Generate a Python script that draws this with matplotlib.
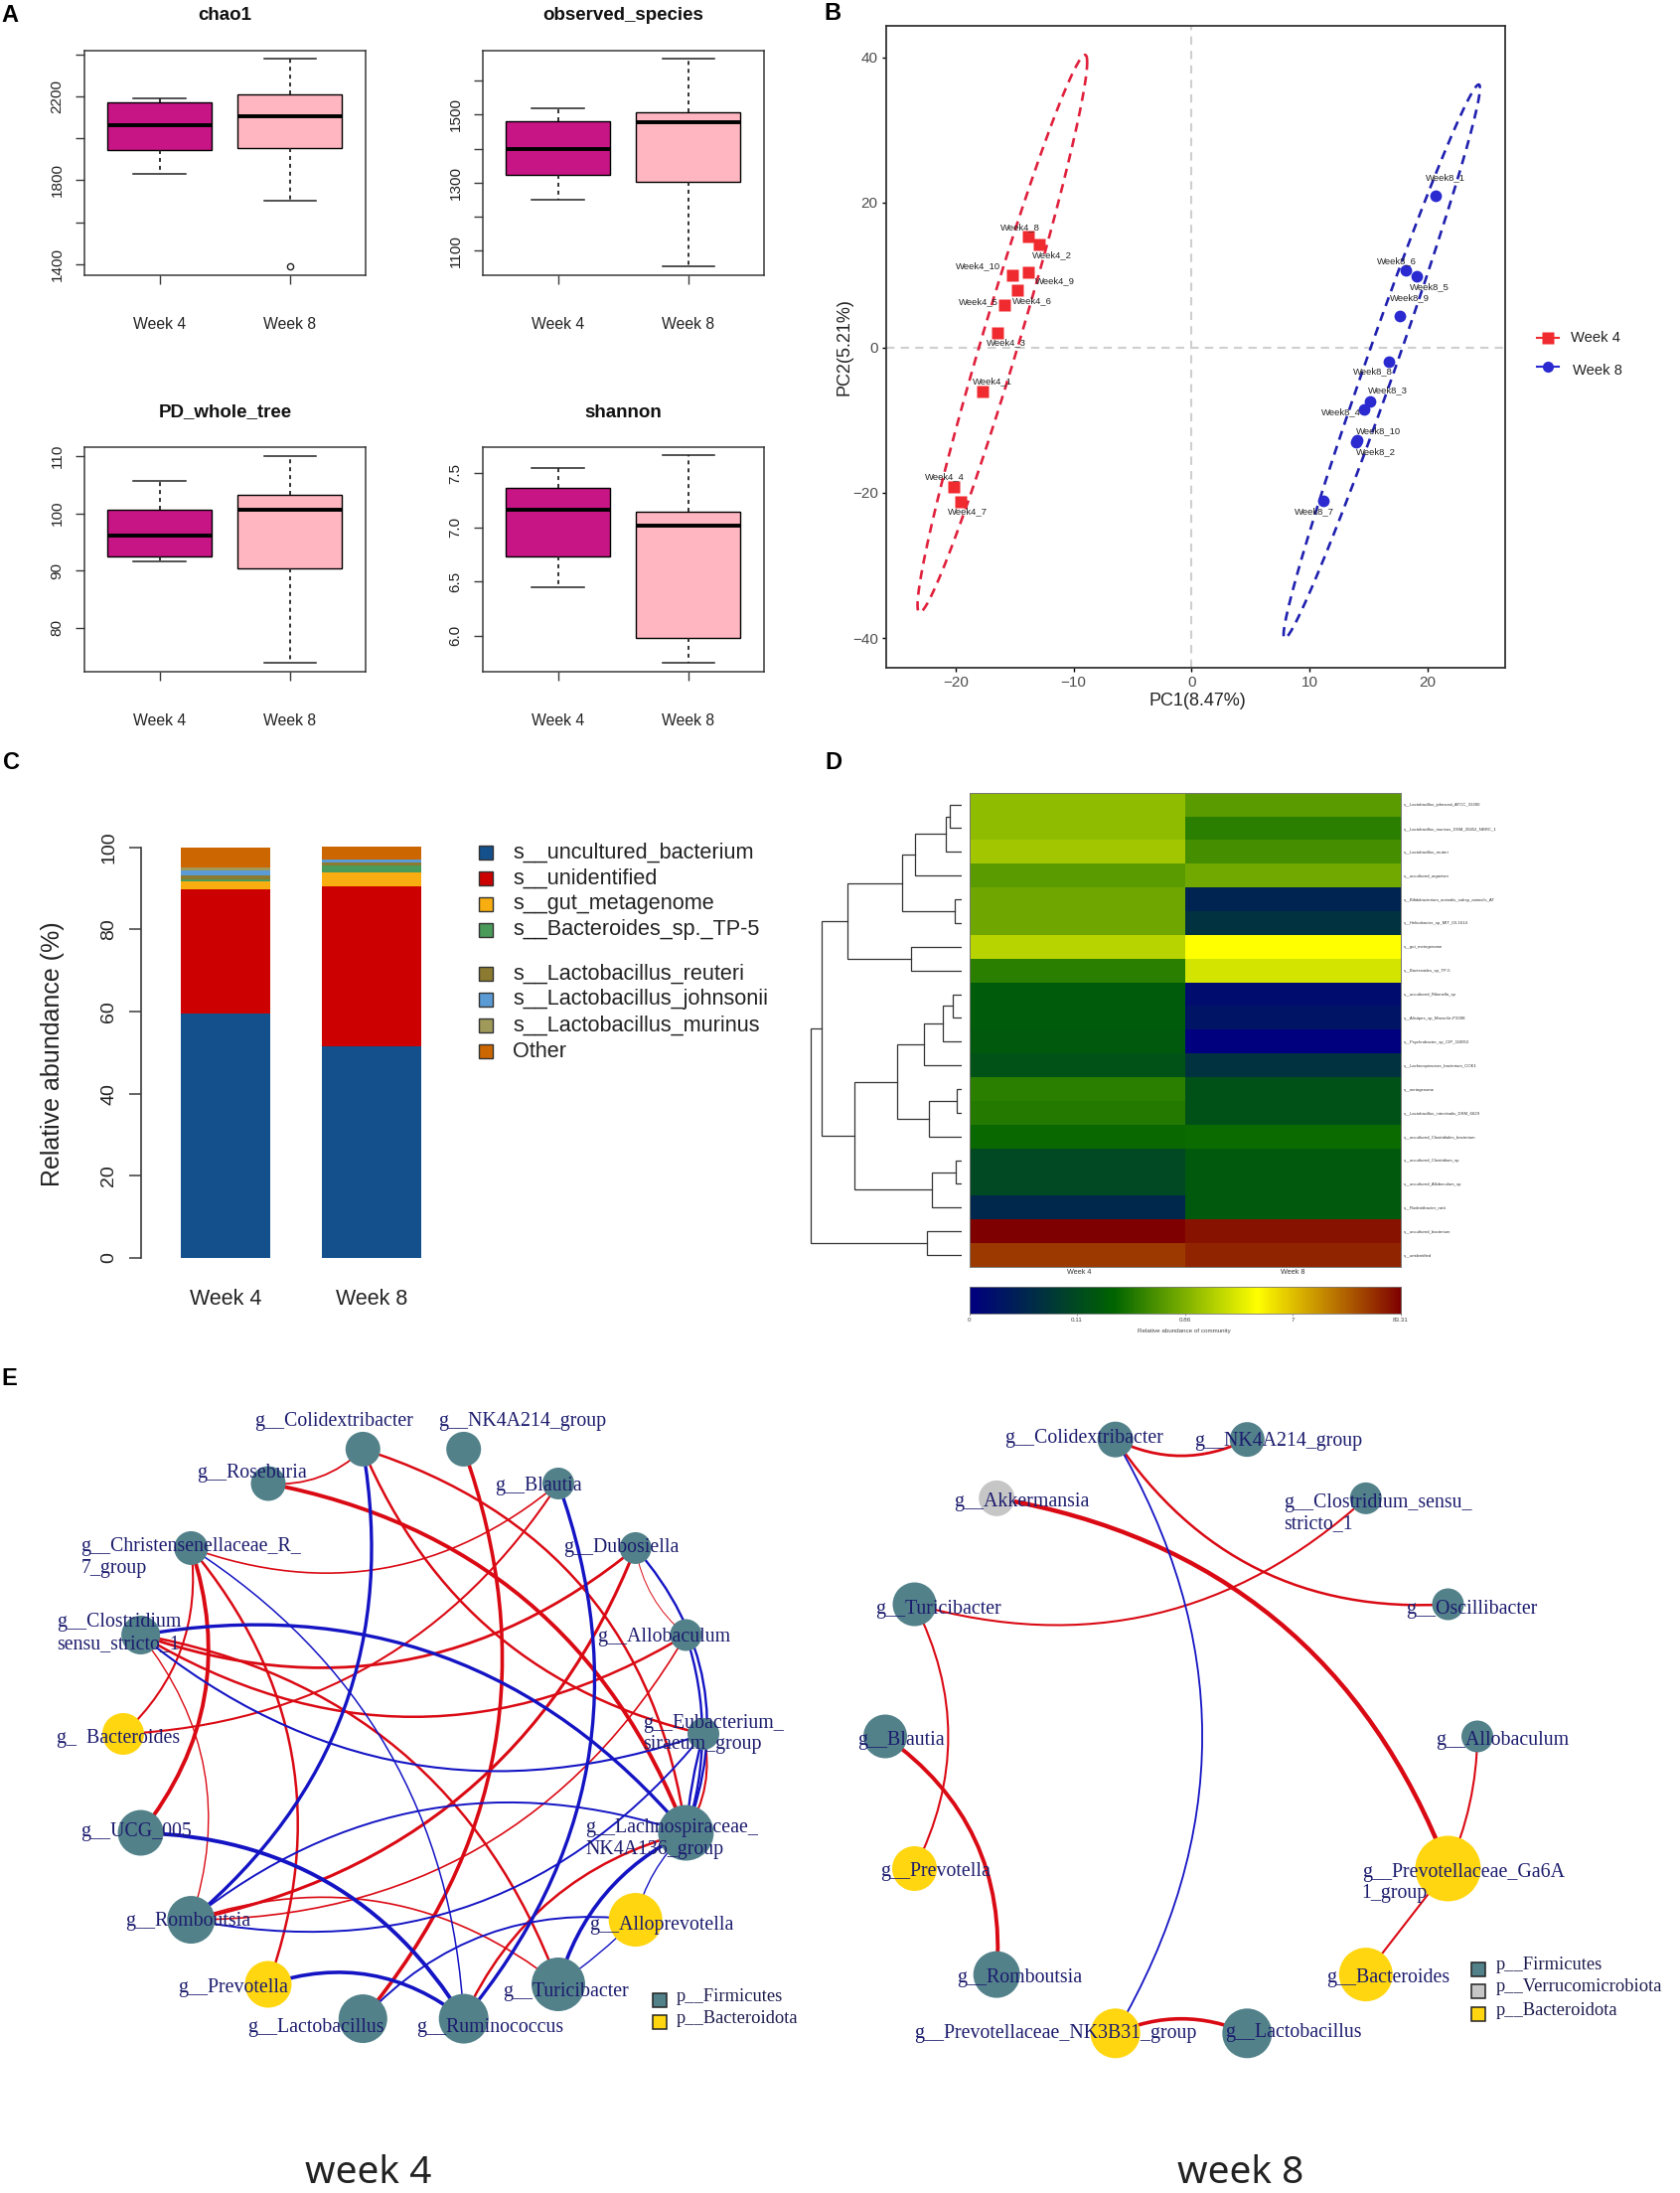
import numpy as np
import matplotlib
matplotlib.use("Agg")
import matplotlib.pyplot as plt
from matplotlib.colors import LinearSegmentedColormap
from matplotlib.lines import Line2D
from matplotlib.patches import Rectangle, PathPatch
from matplotlib.path import Path
from matplotlib.transforms import ScaledTranslation

W, H = 1691, 2207
SANS = "Liberation Sans"
SERIF = "Liberation Serif"
plt.rcParams["font.family"] = SANS

# ---------- Panel A: boxplots (low whisker, q1, median, q3, high whisker) ----------
groups = ["Week 4", "Week 8"]
box_titles = ["chao1", "observed_species", "PD_whole_tree", "shannon"]
chao1_w4 = [1829, 1944, 2063, 2173, 2193]
chao1_w8 = [1701, 1955, 2108, 2209, 2380]
chao1_out = [1387]
observed_w4 = [1249, 1323, 1400, 1481, 1518]
observed_w8 = [1053, 1303, 1477, 1508, 1665]
pd_w4 = [91.6, 92.4, 96.1, 100.7, 105.7]
pd_w8 = [73.8, 90.4, 100.6, 103.2, 110.0]
shannon_w4 = [6.45, 6.73, 7.165, 7.37, 7.55]
shannon_w8 = [5.75, 5.975, 7.02, 7.15, 7.665]
chao1_ticks = [1400, 1600, 1800, 2000, 2200, 2400]
chao1_labels = ["1400", "", "1800", "", "2200", ""]
observed_ticks = [1100, 1200, 1300, 1400, 1500, 1600]
observed_labels = ["1100", "", "1300", "", "1500", ""]
pd_ticks = [80, 90, 100, 110]
shannon_ticks = [6.0, 6.5, 7.0, 7.5]

# ---------- Panel B: PCA scores, samples 1..10 ----------
w4_pc1 = [-17.7, -12.9, -16.5, -20.2, -15.9, -14.8, -19.6, -13.84, -13.84, -15.2]
w4_pc2 = [-6.0, 14.2, 2.1, -19.2, 5.8, 7.9, -21.2, 15.25, 10.4, 10.0]
w8_pc1 = [20.7, 14.0, 15.1, 14.6, 19.1, 18.2, 11.2, 16.7, 17.7, 14.05]
w8_pc2 = [20.9, -13.0, -7.4, -8.5, 9.8, 10.7, -21.1, -1.9, 4.3, -12.8]

# ---------- Panel C: stacked composition ----------
species = ["s__uncultured_bacterium", "s__unidentified", "s__gut_metagenome", "s__Bacteroides_sp._TP-5",
           "s__Lactobacillus_reuteri", "s__Lactobacillus_johnsonii", "s__Lactobacillus_murinus", "Other"]
comp_w4 = [59.4, 30.3, 2.05, 0.3, 1.15, 1.1, 0.8, 4.9]
comp_w8 = [51.5, 38.9, 3.4, 1.7, 0.8, 0.6, 0.2, 3.1]
species_colors = ["#13508C", "#CC0000", "#F8AE10", "#4A9A5A", "#8B7A30", "#5A9BD5", "#A09A5A", "#CC6600"]

# ---------- Panel D: heatmap, values as position on the colour scale ----------
heat_rows = ["s__Lactobacillus_johnsonii_ATCC_33200", "s__Lactobacillus_murinus_DSM_20452_NBRC_1",
             "s__Lactobacillus_reuteri", "s__uncultured_organism",
             "s__Bifidobacterium_animalis_subsp_animalis_AT", "s__Helicobacter_sp_MIT_03-1614",
             "s__gut_metagenome", "s__Bacteroides_sp_TP-5", "s__uncultured_Rikenella_sp",
             "s__Alistipes_sp_Marseille-P3398", "s__Psychrobacter_sp_CIP_110053",
             "s__Lachnospiraceae_bacterium_COE1", "s__metagenome",
             "s__Lactobacillus_intestinalis_DSM_6629", "s__uncultured_Clostridiales_bacterium",
             "s__uncultured_Clostridium_sp", "s__uncultured_Allobaculum_sp", "s__Rodentibacter_ratti",
             "s__uncultured_bacterium", "s__unidentified"]
heat_w4 = [.52, .52, .543, .453, .48, .48, .573, .387, .307, .305, .30, .275, .387, .38, .345, .245, .245, .133, 1.0, .924]
heat_w8 = [.45, .387, .423, .483, .123, .17, .667, .607, .043, .07, 0.0, .17, .27, .27, .35, .30, .30, .30, .975, .952]
heat_scale_ticks = [0, .25, .5, .75, 1]
heat_scale_labels = ["0", "0.11", "0.86", "7", "83.31"]
heat_scale_colors = ["#00007F", "#006400", "#FFFF00", "#7F0000"]
# dendrogram merges: (child, child, height); ids >= 20 refer to earlier merges
merges = [(0, 1, 22), (20, 2, 29), (21, 3, 82), (4, 5, 13), (22, 23, 106), (6, 7, 89), (24, 25, 203),
          (8, 9, 16), (27, 10, 33), (28, 11, 67), (12, 13, 8), (30, 14, 59), (29, 31, 115),
          (15, 16, 10), (33, 17, 52), (32, 34, 190), (26, 35, 248), (18, 19, 62), (36, 37, 267)]

# ---------- Panel E: networks ----------
w4_nodes = ["Colidextribacter", "NK4A214", "Blautia", "Dubosiella", "Allobaculum", "Eubacterium", "Lachnospiraceae",
            "Alloprevotella", "Turicibacter", "Ruminococcus", "Lactobacillus", "Prevotella", "Romboutsia", "UCG",
            "Bacteroides", "Clostridium", "Christensenellaceae", "Roseburia"]
w4_diam = [35, 35, 32, 32, 32, 32, 56, 54, 54, 50, 49, 47, 48, 46, 42, 39, 34, 35]
w4_phylum = ["F", "F", "F", "F", "F", "F", "F", "B", "F", "F", "F", "B", "F", "F", "B", "F", "F", "F"]
# (a, b, bend, line width)
w4_pos = [(17, 0, .15, 1.3), (17, 6, -.185, 2.8), (0, 6, -.21, 1.8), (0, 5, .17, 1.8), (1, 10, -.19, 2.6),
          (2, 14, -.17, 1.5), (16, 2, .19, 1.2), (16, 14, -.17, 1.5), (16, 13, -.18, 2.8), (16, 11, -.19, 1.8),
          (15, 3, .187, 2.0), (15, 4, .2, 1.8), (15, 8, -.19, 1.8), (15, 12, -.18, 1.0), (3, 12, -.18, 2.2),
          (12, 4, .19, 1.2), (12, 8, -.18, 1.2), (9, 6, -.16, 1.8), (5, 6, -.14, 1.5), (3, 4, .125, 0.7)]
w4_neg = [(0, 12, -.19, 2.4), (2, 9, -.19, 2.4), (16, 9, -.17, 1.1), (15, 6, -.19, 2.4), (15, 5, .187, 1.5),
          (3, 6, -.2, 1.7), (4, 6, -.11, 1.7), (5, 6, .03, 1.7), (13, 9, -.18, 2.8), (11, 9, -.18, 2.6),
          (12, 5, .2, 1.4), (12, 6, -.18, 1.4), (10, 7, -.17, 1.4), (8, 6, -.15, 2.6), (8, 7, .03, 1.0), (7, 6, -.1, 1.0)]
w4_labels = [("g__Colidextribacter", 478, 113), ("g__NK4A214_group", 823, 113), ("g__Roseburia", 370, 210),
             ("g__Blautia", 930, 235), ("g__Christensenellaceae_R_\n7_group", 152, 350), ("g__Dubosiella", 1058, 352),
             ("g__Clostridium_\nsensu_stricto_1", 107, 492), ("g__Allobaculum", 1122, 520), ("g_  Bacteroides", 107, 710),
             ("g__Eubacterium_\nsiraeum_group", 1208, 682), ("g__UCG_005", 152, 886),
             ("g__Lachnospiraceae_\nNK4A136_group", 1100, 880), ("g__Romboutsia", 236, 1055),
             ("g__Alloprevotella", 1108, 1063), ("g__Prevotella", 335, 1180), ("g__Turicibacter", 945, 1188),
             ("g__Lactobacillus", 465, 1255), ("g__Ruminococcus", 783, 1255)]

w8_nodes = ["Colidextribacter", "NK4A214", "Clostridium", "Oscillibacter", "Allobaculum", "Ga6A", "Bacteroides",
            "Lactobacillus", "NK3B31", "Romboutsia", "Prevotella", "Blautia", "Turicibacter", "Akkermansia"]
w8_diam = [36, 35, 32, 32, 32, 66, 54, 50, 50, 47, 45, 44, 44, 36]
w8_phylum = ["F", "F", "F", "F", "F", "B", "B", "F", "B", "F", "B", "F", "F", "V"]
w8_pos = [(0, 1, .165, 2.0), (0, 3, .19, 1.8), (13, 5, -.19, 3.2), (12, 2, .185, 1.5), (12, 10, -.17, 1.5),
          (11, 9, -.19, 2.8), (4, 5, -.07, 1.5), (5, 6, 0.0, 1.5), (8, 7, -.147, 2.6)]
w8_neg = [(0, 8, -.195, 1.3)]
w8_labels = [("g__Colidextribacter", 316, 145), ("g__NK4A214_group", 668, 150), ("g__Akkermansia", 222, 265),
             ("g__Clostridium_sensu_\nstricto_1", 833, 267), ("g__Turicibacter", 75, 467), ("g__Oscillibacter", 1060, 467),
             ("g__Blautia", 42, 715), ("g__Allobaculum", 1115, 715), ("g__Prevotella", 85, 962),
             ("g__Prevotellaceae_Ga6A\n1_group", 978, 963), ("g__Romboutsia", 227, 1163), ("g__Bacteroides", 912, 1163),
             ("g__Prevotellaceae_NK3B31_group", 147, 1267), ("g__Lactobacillus", 725, 1266)]
phylum_names = {"F": "p__Firmicutes", "V": "p__Verrucomicrobiota", "B": "p__Bacteroidota"}
phylum_colors = {"F": "#52818A", "V": "#C6C6C6", "B": "#FFD60F"}

fig = plt.figure(figsize=(W / 100, H / 100), dpi=100, facecolor="white")


def rect(x0, y0, x1, y1, **kw):
    return fig.add_axes([x0 / W, 1 - y1 / H, (x1 - x0) / W, (y1 - y0) / H], **kw)


def txt(x, y, s, **kw):
    kw.setdefault("ha", "left")
    kw.setdefault("va", "center")
    return fig.text(x / W, 1 - y / H, s, **kw)


def shift_labels(labels, dx):
    for lb in labels:
        lb.set_transform(lb.get_transform() + ScaledTranslation(dx / 100, 0, fig.dpi_scale_trans))


for s, x, y in [("A", 10, 15), ("B", 838, 14), ("C", 11, 768), ("D", 839, 767), ("E", 9, 1387)]:
    txt(x, y, s, fontsize=17, fontweight="bold", ha="center", color="black")

# ---------- A ----------
DARK = "#3A3A3A"


def boxpanel(rc, title, w4, w8, out, ylim, ticks, labels):
    ax = rect(*rc)
    stats = []
    for v, fl in zip((w4, w8), ([], out)):
        stats.append(dict(whislo=v[0], q1=v[1], med=v[2], q3=v[3], whishi=v[4], fliers=fl))
    art = ax.bxp(stats, positions=[1, 2], widths=.8, capwidths=.4, patch_artist=True,
                 medianprops=dict(color="black", lw=2.8, solid_capstyle="butt"),
                 boxprops=dict(edgecolor="black", lw=1.0),
                 whiskerprops=dict(color="#222222", lw=1.3, ls=(0, (2.2, 2.2))),
                 capprops=dict(color="#222222", lw=1.1),
                 flierprops=dict(marker="o", ms=4.5, mfc="white", mec="#222222", mew=1))
    for p, c in zip(art["boxes"], ("#C71585", "#FFB6C1")):
        p.set_facecolor(c)
    ax.set_xlim(.423, 2.58)
    ax.set_ylim(*ylim)
    ax.set_yticks(ticks)
    ax.set_yticklabels(labels, rotation=90, va="center", fontsize=11, color="#222222")
    ax.set_xticks([1, 2])
    ax.set_xticklabels(groups, fontsize=11.3, color="#222222")
    shift_labels(ax.get_xticklabels(), -3)
    ax.tick_params(axis="y", length=6.8, width=1, color=DARK, pad=8)
    ax.tick_params(axis="x", length=6.2, width=1, color=DARK, pad=24)
    for sp in ax.spines.values():
        sp.set_color(DARK)
        sp.set_linewidth(1.1)
    txt((rc[0] + rc[2]) / 2, rc[1] - 35, title, fontsize=13.5, fontweight="bold", ha="center", color="#111111")


boxpanel((85, 51, 368, 277), box_titles[0], chao1_w4, chao1_w8, chao1_out, (1346, 2420), chao1_ticks, chao1_labels)
boxpanel((486, 51, 769, 277), box_titles[1], observed_w4, observed_w8, [], (1028, 1688), observed_ticks, observed_labels)
boxpanel((85, 450, 368, 676), box_titles[2], pd_w4, pd_w8, [], (72.3, 111.6), pd_ticks, [str(t) for t in pd_ticks])
boxpanel((486, 450, 769, 676), box_titles[3], shannon_w4, shannon_w8, [], (5.666, 7.743), shannon_ticks,
         [f"{t:.1f}" for t in shannon_ticks])

# ---------- B ----------
ax = rect(892, 25.5, 1515, 672)
ax.set_xlim(-25.9, 26.6)
ax.set_ylim(-44.1, 44.4)
ax.axhline(0, color="#CFCFCF", lw=1.5, ls=(0, (4, 3)), zorder=1)
ax.axvline(0, color="#CFCFCF", lw=1.5, ls=(0, (4, 3)), zorder=1)
ELL_R = np.sqrt(2 * 4.256)
w4_off = [(10, 10), (13, -11), (9, -10), (-9, 10), (-26, 4), (15, -11), (7, -10), (-8, 10), (27, -9), (-34, 9)]
w8_off = [(10, 18), (19, -10), (18, 11), (-23, -3), (13, -10), (-9, 9), (-9, -11), (-16, -10), (10, 19), (21, 10)]
for xs, ys, off, name, col, mk, ms in [(w4_pc1, w4_pc2, w4_off, "Week4", "#F02B30", "s", 8.3),
                                       (w8_pc1, w8_pc2, w8_off, "Week8", "#2A2AD0", "o", 8.5)]:
    xs, ys = np.array(xs), np.array(ys)
    t = np.linspace(0, 2 * np.pi, 200)
    chol = np.linalg.cholesky(np.cov(xs, ys))
    e = np.c_[xs.mean(), ys.mean()].T + ELL_R * chol @ np.vstack([np.cos(t), np.sin(t)])
    ax.plot(e[0], e[1], color="#E0203C" if mk == "s" else "#2020B0", lw=1.9, ls=(0, (3.5, 2.5)), zorder=2)
    ax.plot(xs, ys, mk, color=col, ms=ms, zorder=3, mec="none")
    for i, (px, py) in enumerate(zip(xs, ys)):
        ax.annotate(f"{name}_{i + 1}", (px, py), xytext=off[i], textcoords="offset pixels",
                    ha="center", va="center", fontsize=6.8, color="#222222", zorder=4)
ax.set_xticks([-20, -10, 0, 10, 20])
ax.set_yticks([-40, -20, 0, 20, 40])
ax.tick_params(labelsize=11, length=3, width=1, labelcolor="#4D4D4D", pad=3)
for sp in ax.spines.values():
    sp.set_color("#333333")
    sp.set_linewidth(1.3)
txt(1205, 705.5, "PC1(8.47%)", fontsize=13, ha="center", color="#222222")
txt(850, 349, "PC2(5.21%)", fontsize=13, ha="center", rotation=90, color="#222222")
for y, col, mk, lab, tx, ty in [(340, "#F02B30", "s", "Week 4", 1581, 340), (369, "#2A2AD0", "o", "Week 8", 1583, 373)]:
    fig.add_artist(Line2D([1547 / W, 1569 / W], [1 - y / H] * 2, color=col, lw=1.5))
    fig.add_artist(Line2D([1558 / W], [1 - y / H], marker=mk, color=col, ms=8, mec="none"))
    txt(tx, ty, lab, fontsize=10.6, color="#222222")

# ---------- C ----------
ax = rect(142, 848.5, 440, 1266)
ax.set_xlim(-.578, 1.449)
ax.set_ylim(0, 101)
bottoms = np.zeros(2)
for i, c in enumerate(species_colors):
    vals = np.array([comp_w4[i], comp_w8[i]])
    ax.bar([0, 1], vals, bottom=bottoms, width=[.61, .68], color=c, linewidth=0)
    bottoms += vals
for s in ("top", "right", "bottom"):
    ax.spines[s].set_visible(False)
ax.spines["left"].set_bounds(0, 100)
ax.spines["left"].set_color(DARK)
ax.spines["left"].set_linewidth(1.2)
ax.set_yticks([0, 20, 40, 60, 80, 100])
ax.set_yticklabels(["0", "20", "40", "60", "80", "100"], rotation=90, va="center", fontsize=14, color="#222222")
ax.tick_params(axis="y", length=9, width=1.1, color=DARK, pad=8)
ax.set_xticks([0, 1])
ax.set_xticklabels(groups, fontsize=15.5, color="#222222")
shift_labels(ax.get_xticklabels(), -6)
ax.tick_params(axis="x", length=0, pad=22)
txt(53, 1061, "Relative abundance (%)", fontsize=18, rotation=90, ha="center", color="#222222")
for y, c, s in zip([858, 884, 910, 936, 980, 1006, 1032, 1058], species_colors, species):
    fig.add_artist(Rectangle((482 / W, 1 - (y + 7) / H), 14 / W, 14 / H, transform=fig.transFigure,
                             facecolor=c, edgecolor="#333333", lw=1))
    txt(516, y, s, fontsize=15.6, color="#222222")

# ---------- D ----------
heat_cmap = LinearSegmentedColormap.from_list("heat", heat_scale_colors)
ax = rect(975.6, 797.7, 1409.7, 1275)
grid = np.column_stack([heat_w4, heat_w8])
ax.pcolormesh(np.arange(3), np.arange(21), grid, cmap=heat_cmap, vmin=0, vmax=1, edgecolors="none")
ax.set_xlim(0, 2)
ax.set_ylim(20, 0)
ax.set_xticks([.51, 1.5])
ax.set_xticklabels(groups, fontsize=5.2, color="#333333")
ax.yaxis.tick_right()
ax.set_yticks(np.arange(20) + .5)
ax.set_yticklabels(heat_rows, fontsize=3.05, color="#333333")
ax.tick_params(length=0, pad=2.5)
ax.tick_params(axis="x", pad=1.5)
for sp in ax.spines.values():
    sp.set_color("#777777")
    sp.set_linewidth(.7)

ax = rect(800, 797.7, 968, 1275)
ax.set_xlim(296, 0)
ax.set_ylim(20, 0)
ax.axis("off")
pos = {i: (0.0, i + .5) for i in range(20)}
for k, (a, b, h) in enumerate(merges):
    xa, ya = pos[a]
    xb, yb = pos[b]
    ax.plot([xa, h, h, xb], [ya, ya, yb, yb], color="#333333", lw=.9, solid_joinstyle="miter")
    pos[20 + k] = (h, (ya + yb) / 2)

ax = rect(975.6, 1295, 1409.7, 1321.6)
ax.imshow(np.linspace(0, 1, 400)[None, :], aspect="auto", cmap=heat_cmap, vmin=0, vmax=1, extent=(0, 1, 0, 1))
ax.set_yticks([])
ax.set_xticks(heat_scale_ticks)
ax.set_xticklabels(heat_scale_labels, fontsize=4.5, color="#444444")
ax.tick_params(axis="x", length=1.5, width=.4, pad=1.5, color="#555555")
for sp in ax.spines.values():
    sp.set_color("#777777")
    sp.set_linewidth(.6)
txt(1192, 1339, "Relative abundance of community", fontsize=4.5, ha="center", color="#444444")


# ---------- E ----------
def network(cx, cy, rx, ry, names, diam, phylum, pos_edges, neg_edges):
    ax = rect(cx - rx * 1.25, cy - ry * 1.25, cx + rx * 1.25, cy + ry * 1.25)
    ax.set_xlim(-rx * 1.25, rx * 1.25)
    ax.set_ylim(ry * 1.25, -ry * 1.25)
    ax.axis("off")
    n = len(names)
    ang = np.radians(-180 / n + np.arange(n) * 360 / n)
    X, Y = rx * np.sin(ang), -ry * np.cos(ang)
    for edges, col in ((pos_edges, "#DA0A14"), (neg_edges, "#1414C4")):
        for a, b, bend, lw in edges:
            P0, P3 = np.array([X[a], Y[a]]), np.array([X[b], Y[b]])
            d = P3 - P0
            nrm = np.array([-d[1], d[0]])
            P1, P2 = P0 + d / 3 + bend * nrm, P0 + 2 * d / 3 + bend * nrm
            ax.add_patch(PathPatch(Path([P0, P1, P2, P3], [Path.MOVETO, Path.CURVE4, Path.CURVE4, Path.CURVE4]),
                                   fc="none", ec=col, lw=lw, zorder=1, clip_on=False))
    ax.scatter(X, Y, s=(np.array(diam) * .72) ** 2, c=[phylum_colors[p] for p in phylum],
               linewidths=0, zorder=2, clip_on=False)


def net_text(labels, x0, y0, fx, fy):
    for s, x, y in labels:
        for k, line in enumerate(s.split("\n")):
            txt(x0 + x / fx, y0 + y / fy + k * 21.5, line, fontsize=14.3, family=SERIF, color="#1C1C6E", zorder=5)


network(416, 1745, 292, 291, w4_nodes, w4_diam, w4_phylum, w4_pos, w4_neg)
net_text(w4_labels, 0, 1370, 1.867, 1.873)
network(1189, 1747.5, 298, 306.5, w8_nodes, w8_diam, w8_phylum, w8_pos, w8_neg)
net_text(w8_labels, 840, 1370, 1.843, 1.873)

for x, ys, tx, keys in [(664, [2013, 2035], 681, ["F", "B"]), (1488, [1982, 2004, 2027], 1506, ["F", "V", "B"])]:
    for y, k in zip(ys, keys):
        fig.add_artist(Rectangle(((x - 7) / W, 1 - (y + 7) / H), 14 / W, 14 / H, transform=fig.transFigure,
                                 facecolor=phylum_colors[k], edgecolor="#222222", lw=1.1))
        txt(tx, y - 4, phylum_names[k], fontsize=13.3, family=SERIF, color="#1C1C4E")

txt(371, 2187, "week 4", fontsize=28, family="Noto Sans", ha="center", color="#222222")
txt(1249, 2187, "week 8", fontsize=28, family="Noto Sans", ha="center", color="#222222")

fig.savefig("out.png", dpi=100)
